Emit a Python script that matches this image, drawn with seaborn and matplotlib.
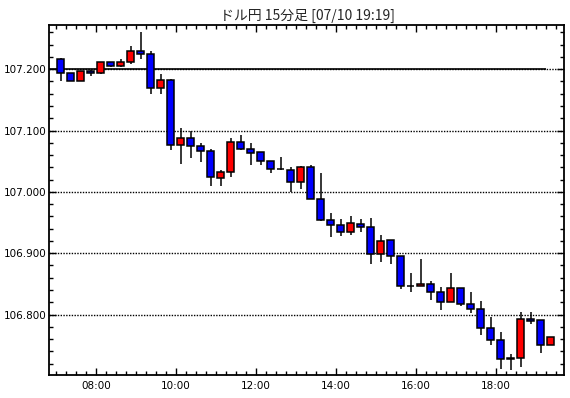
"""
USD/JPY 15-minute candlestick chart.
"""

import matplotlib.pyplot as plt
import matplotlib.ticker as mticker
import numpy as np
import pandas as pd
import seaborn as sns

# 15-minute bins, 07:00 .. 19:15
times = pd.date_range("2019-07-10 07:00", periods=50, freq="15min")

opens = [107.217, 107.193, 107.181, 107.197, 107.194, 107.211, 107.205, 107.211, 107.230, 107.225,
         107.170, 107.183, 107.076, 107.088, 107.075, 107.067, 107.022, 107.032, 107.081, 107.070,
         107.065, 107.051, 107.038, 107.036, 107.016, 107.040, 106.988, 106.954, 106.946, 106.935,
         106.948, 106.942, 106.899, 106.921, 106.896, 106.846, 106.846, 106.850, 106.836, 106.821,
         106.844, 106.817, 106.809, 106.778, 106.758, 106.727, 106.730, 106.793, 106.791, 106.750]
highs = [107.218, 107.193, 107.197, 107.198, 107.211, 107.211, 107.217, 107.237, 107.261, 107.229,
         107.192, 107.184, 107.104, 107.099, 107.080, 107.070, 107.036, 107.088, 107.093, 107.080,
         107.065, 107.051, 107.057, 107.040, 107.042, 107.044, 107.030, 106.966, 106.955, 106.961,
         106.955, 106.958, 106.929, 106.922, 106.896, 106.868, 106.891, 106.855, 106.845, 106.868,
         106.844, 106.836, 106.822, 106.796, 106.772, 106.735, 106.805, 106.804, 106.791, 106.763]
lows = [107.181, 107.181, 107.181, 107.189, 107.192, 107.204, 107.203, 107.209, 107.216, 107.159,
        107.159, 107.068, 107.046, 107.056, 107.048, 107.009, 107.009, 107.025, 107.069, 107.043,
        107.043, 107.030, 107.036, 107.000, 107.004, 106.988, 106.952, 106.926, 106.928, 106.929,
        106.935, 106.882, 106.886, 106.882, 106.841, 106.836, 106.846, 106.823, 106.807, 106.821,
        106.814, 106.802, 106.767, 106.751, 106.711, 106.709, 106.714, 106.785, 106.738, 106.750]
closes = [107.193, 107.181, 107.197, 107.194, 107.211, 107.205, 107.211, 107.230, 107.224, 107.170,
          107.183, 107.076, 107.088, 107.074, 107.066, 107.024, 107.032, 107.081, 107.070, 107.064,
          107.050, 107.037, 107.037, 107.016, 107.040, 106.988, 106.954, 106.946, 106.935, 106.950,
          106.942, 106.899, 106.920, 106.896, 106.846, 106.846, 106.850, 106.836, 106.821, 106.844,
          106.817, 106.809, 106.778, 106.758, 106.727, 106.730, 106.793, 106.790, 106.750, 106.763]

ref_price = 107.200
title = "ドル円 15分足 [07/10 19:19]"

df = pd.DataFrame({"time": times, "open": opens, "high": highs, "low": lows, "close": closes})
# x in hours, candle centred on its bin
df["x"] = df["time"].dt.hour + df["time"].dt.minute / 60 + 0.125
df["bottom"] = df[["open", "close"]].min(axis=1)
df["height"] = (df["close"] - df["open"]).abs().clip(lower=0.0008)
df["color"] = np.where(df["close"] > df["open"], "#ff0000",
                       np.where(df["close"] < df["open"], "#0000ff", "black"))

sns.set_style("ticks")
plt.rcParams["font.family"] = ["DejaVu Sans", "Noto Sans CJK JP"]

fig = plt.figure(figsize=(5.70, 3.98), dpi=100)
ax = fig.add_axes([49 / 570, 23 / 398, 515 / 570, 350 / 398])

x_lo, x_hi = 6.83, 19.71
ax.set_xlim(x_lo, x_hi)
ax.set_ylim(106.7015, 107.272)

# grid lines
for y in [106.8, 106.9, 107.0, 107.1, 107.2]:
    ax.axhline(y, color="black", lw=1, ls=(0, (1, 1)), zorder=1)
# reference line (solid) up to the last bar
ax.hlines(ref_price, x_lo, df["x"].iloc[-1] - 0.125, color="black", lw=1.2, zorder=1)

# wicks
ax.vlines(df["x"], df["low"], df["high"], color="black", lw=1.1, zorder=2)
# bodies
ax.bar(df["x"], df["height"], bottom=df["bottom"], width=0.175,
       color=df["color"], edgecolor="black", linewidth=1.1, zorder=3)

# ticks
ax.xaxis.set_major_locator(mticker.MultipleLocator(2))
ax.xaxis.set_minor_locator(mticker.MultipleLocator(0.25))
ax.xaxis.set_major_formatter(mticker.FuncFormatter(lambda v, p: f"{int(v):02d}:00"))
ax.yaxis.set_major_locator(mticker.MultipleLocator(0.1))
ax.yaxis.set_minor_locator(mticker.MultipleLocator(0.02))
ax.yaxis.set_major_formatter(mticker.FormatStrFormatter("%.3f"))

ax.tick_params(which="both", direction="in", top=True, right=True, color="black",
               labelsize=7.5, labelcolor="black", width=1)
ax.tick_params(which="major", length=5)
ax.tick_params(which="minor", length=3)
ax.tick_params(axis="x", pad=4)
ax.tick_params(axis="y", pad=1.5)

for s in ax.spines.values():
    s.set_linewidth(1.3)
    s.set_color("black")
    s.set_visible(True)

ax.set_title(title, fontsize=10, pad=4, family=["Noto Sans CJK JP", "DejaVu Sans"],
             x=(308 - 49) / 515)

plt.savefig("out.png", dpi=100)
plt.close()
